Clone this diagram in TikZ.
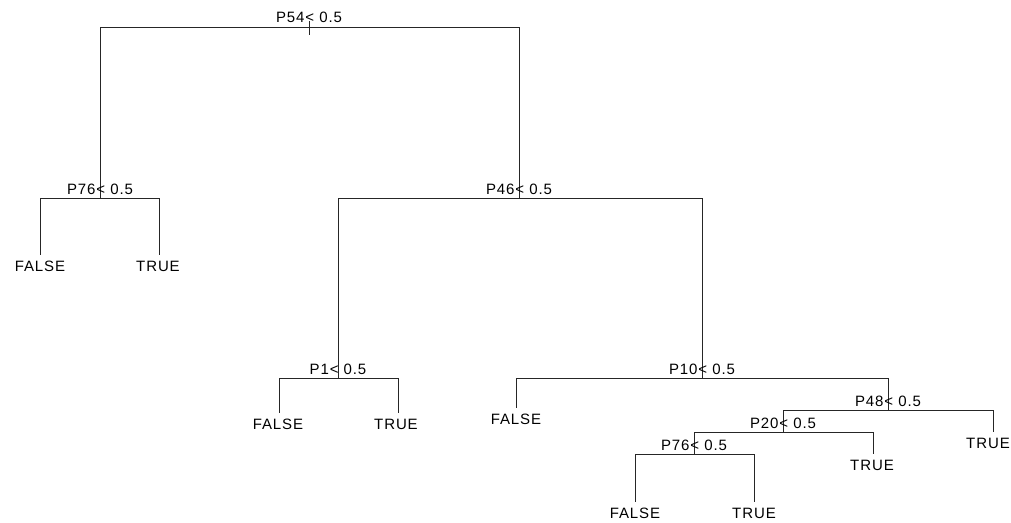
\documentclass[tikz,border=0pt]{standalone}
\usepackage{fontspec}
\setmainfont{Liberation Sans}[LetterSpace=6]
\begin{document}
\begin{tikzpicture}[x=1pt,y=-1pt,
  edge/.style={draw=black!85,line width=0.9pt},
  splitlab/.style={anchor=base,inner sep=0pt,font=\fontsize{15}{18}\selectfont},
  leaflab/.style={anchor=north,inner sep=0pt,font=\fontsize{15}{18}\selectfont}]
\useasboundingbox (0,0) rectangle (1011,522);
% split points
\coordinate (s1) at (309,27);
\coordinate (s2) at (100,198);
\coordinate (s3) at (519,198);
\coordinate (s4) at (338,378);
\coordinate (s5) at (702,378);
\coordinate (s6) at (888,410);
\coordinate (s7) at (783,432);
\coordinate (s8) at (694,454);
% leaf ends
\coordinate (l1) at (40,255);
\coordinate (l2) at (159,255);
\coordinate (l3) at (279,413);
\coordinate (l4) at (398,413);
\coordinate (l5) at (516,408);
\coordinate (l6) at (993,432);
\coordinate (l7) at (873,454);
\coordinate (l8) at (635,502);
\coordinate (l9) at (754,502);
\coordinate (r0) at (309,21);
\coordinate (r1) at (309,35);
% connectors
\draw[edge] (r0) -- (r1);
\draw[edge] (s1) -| (s2);
\draw[edge] (s1) -| (s3);
\draw[edge] (s2) -| (l1);
\draw[edge] (s2) -| (l2);
\draw[edge] (s3) -| (s4);
\draw[edge] (s3) -| (s5);
\draw[edge] (s4) -| (l3);
\draw[edge] (s4) -| (l4);
\draw[edge] (s5) -| (l5);
\draw[edge] (s5) -| (s6);
\draw[edge] (s6) -| (s7);
\draw[edge] (s6) -| (l6);
\draw[edge] (s7) -| (s8);
\draw[edge] (s7) -| (l7);
\draw[edge] (s8) -| (l8);
\draw[edge] (s8) -| (l9);
% split labels
\node[splitlab] (t1) at (309,23) {P54< 0.5};
\node[splitlab] (t2) at (100,194) {P76< 0.5};
\node[splitlab] (t3) at (519,194) {P46< 0.5};
\node[splitlab] (t4) at (338,374) {P1< 0.5};
\node[splitlab] (t5) at (702,374) {P10< 0.5};
\node[splitlab] (t6) at (888,406) {P48< 0.5};
\node[splitlab] (t7) at (783,428) {P20< 0.5};
\node[splitlab] (t8) at (694,450) {P76< 0.5};
% leaf labels
\node[leaflab] (f1) at (40,261) {FALSE};
\node[leaflab] (f2) at (158,261) {TRUE};
\node[leaflab] (f3) at (278,419) {FALSE};
\node[leaflab] (f4) at (396,419) {TRUE};
\node[leaflab] (f5) at (516,414) {FALSE};
\node[leaflab] (f6) at (988,438) {TRUE};
\node[leaflab] (f7) at (872,460) {TRUE};
\node[leaflab] (f8) at (635,508) {FALSE};
\node[leaflab] (f9) at (754,508) {TRUE};
\end{tikzpicture}
\end{document}
